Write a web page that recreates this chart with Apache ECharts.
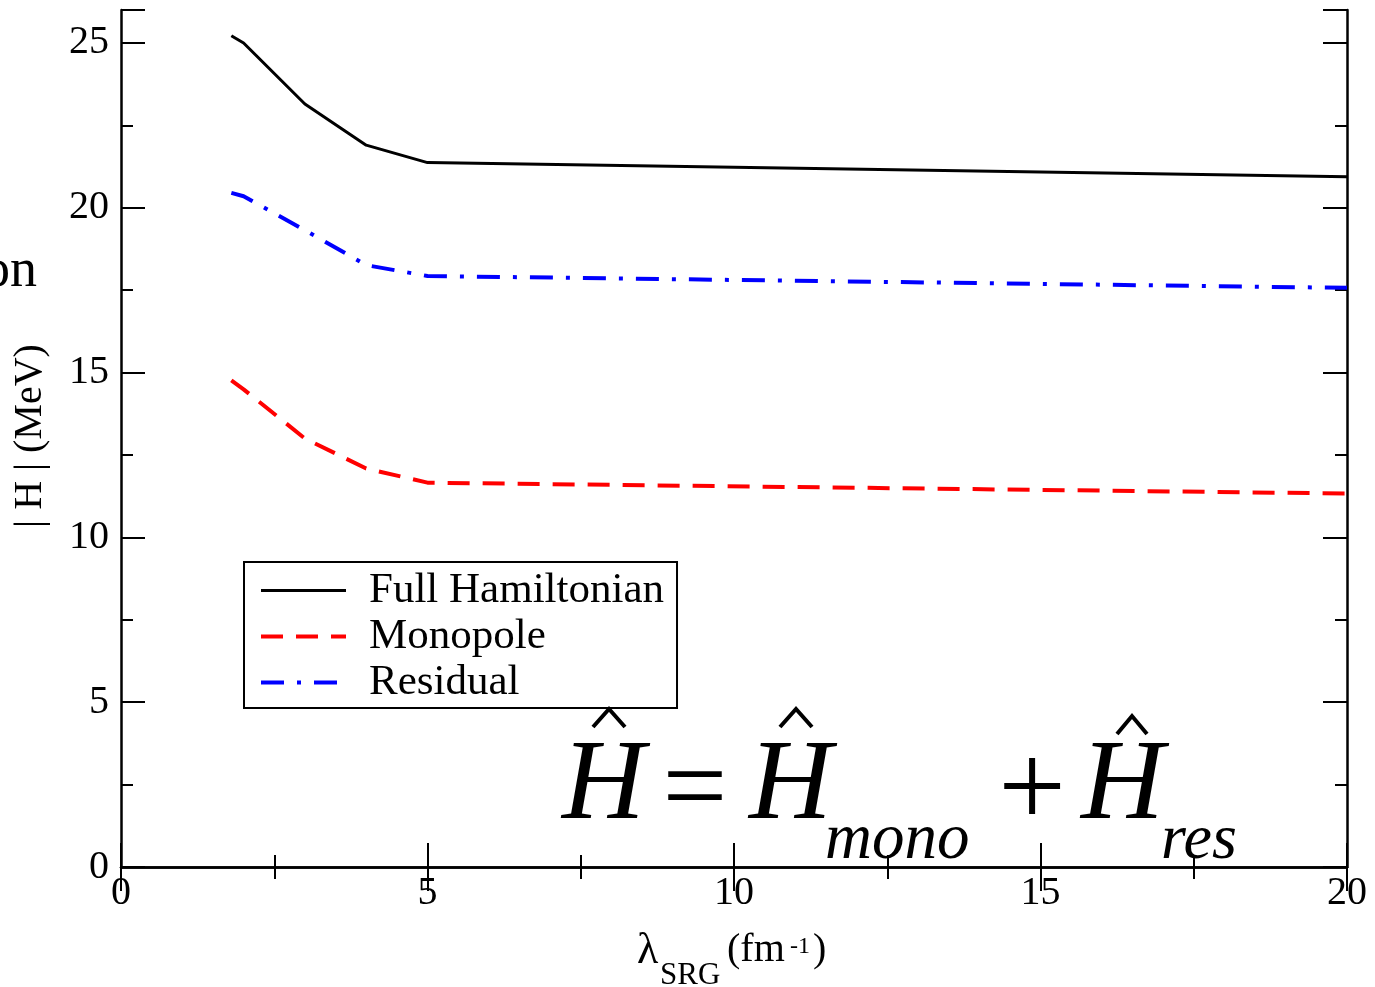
<!DOCTYPE html>
<html>
<head>
<meta charset="utf-8">
<title>SRG evolution of Hamiltonian norms</title>
<script src="https://cdn.jsdelivr.net/npm/echarts@6/dist/echarts.min.js"></script>
<style>
  html, body { margin: 0; padding: 0; background: #fff; }
  #chart { width: 1375px; height: 987px; }
</style>
</head>
<body>
<div id="chart"></div>
<script>
// SRG flow parameter lambda (fm^-1)
const lambda = [1.8, 2.0, 3.0, 4.0, 5.0, 20.0];
// |H| in MeV for each piece of the Hamiltonian
const fullH    = [25.22, 25.00, 23.15, 21.90, 21.37, 20.94];
const monopole = [14.76, 14.49, 13.00, 12.09, 11.66, 11.33];
const residual = [20.45, 20.35, 19.32, 18.26, 17.93, 17.57];
const seriesNames = ['Full Hamiltonian', 'Monopole', 'Residual'];

const SERIF = '"Liberation Serif", "Times New Roman", serif';
const pairs = ys => lambda.map((x, i) => [x, ys[i]]);

const styles = [
  { color: '#000000', width: 3, type: 'solid' },
  { color: '#ff0000', width: 4, type: [22, 13] },
  { color: '#0000ff', width: 4, type: [23, 13, 4, 13] }
];

const frame = { show: true, lineStyle: { color: '#000', width: 2.5 } };
const majorTick = { show: true, inside: true, length: 24, lineStyle: { color: '#000', width: 2 } };
const minorTickAx = { show: true, inside: true, length: 12, lineStyle: { color: '#000', width: 2 } };
const tickLabel = { fontSize: 40, fontFamily: SERIF, color: '#000' };

function xAx(pos, labels) {
  return {
    type: 'value', position: pos, min: 0, max: 20, interval: 5,
    axisLine: frame, axisTick: majorTick,
    minorTick: { show: true, splitNumber: 2, length: 12, lineStyle: { color: '#000', width: 2 } },
    axisLabel: labels ? Object.assign({ margin: 6 }, tickLabel) : { show: false },
    splitLine: { show: false }, minorSplitLine: { show: false }
  };
}
function yAx(pos, interval, tick, labels, line) {
  return {
    type: 'value', position: pos, min: 0, max: 26, interval: interval,
    axisLine: line ? frame : { show: false }, axisTick: tick,
    axisLabel: labels ? Object.assign({
      margin: 12, formatter: v => (v % 5 === 0 ? String(v) : '')
    }, tickLabel) : { show: false },
    splitLine: { show: false }
  };
}

function txt(text, x, y, size, opts) {
  opts = opts || {};
  return {
    type: 'text', x: x, y: y, rotation: opts.rot || 0, z: 10,
    style: {
      text: text, fill: '#000',
      font: (opts.italic ? 'italic ' : '') + size + 'px ' + SERIF,
      align: opts.align || 'left', textAlign: opts.align || 'left',
      verticalAlign: 'middle', textVerticalAlign: 'middle'
    }
  };
}
function hat(x0, xa, x1, yTop, yBot) {
  return {
    type: 'polyline', z: 10,
    shape: { points: [[x0, yBot], [xa, yTop], [x1, yBot]] },
    style: { stroke: '#000', lineWidth: 4, fill: null, lineJoin: 'miter' }
  };
}

const chart = echarts.init(document.getElementById('chart'), null, { renderer: 'canvas' });
chart.setOption({
  backgroundColor: '#fff',
  animation: false,
  grid: { left: 121, right: 28, top: 10, bottom: 120, containLabel: false },
  xAxis: [xAx('bottom', true), xAx('top', false)],
  yAxis: [
    yAx('left', 5, majorTick, true, true),
    yAx('left', 2.5, minorTickAx, false, false),
    yAx('right', 5, majorTick, false, true),
    yAx('right', 2.5, minorTickAx, false, false)
  ],
  legend: {
    orient: 'vertical', left: 244, top: 562,
    backgroundColor: '#fff', borderColor: '#000', borderWidth: 2,
    padding: [7, 13, 4, 15], itemGap: 3, itemWidth: 85, itemHeight: 20,
    itemStyle: { opacity: 0, borderWidth: 0 },
    data: seriesNames.map((n, i) => ({
      name: n,
      lineStyle: { color: styles[i].color, width: styles[i].width, type: styles[i].type }
    })),
    formatter: name => '{t|' + name + '}',
    textStyle: {
      color: '#000', fontFamily: SERIF, fontSize: 43,
      rich: { t: { fontFamily: SERIF, fontSize: 43, color: '#000', padding: [0, 0, 0, 18] } }
    }
  },
  series: seriesNames.map((n, i) => ({
    name: n, type: 'line',
    data: pairs([fullH, monopole, residual][i]),
    showSymbol: false, symbol: 'none',
    lineStyle: { color: styles[i].color, width: styles[i].width, type: styles[i].type },
    itemStyle: { color: styles[i].color }
  })),
  graphic: [
    // axis titles
    txt('| H | (MeV)', 30, 436, 40, { rot: Math.PI / 2, align: 'center' }),
    txt('on', 37, 272, 54, { align: 'right' }),
    txt('\u03bb', 637, 951, 44),
    txt('SRG', 660, 976, 31),
    txt('(fm', 727, 950, 40),
    txt('-1', 790, 947, 24),
    txt(')', 813, 950, 40),
    // H = H_mono + H_res
    txt('H', 562, 788, 115, { italic: true }),
    hat(593, 609, 625, 709, 727),
    txt('=', 695, 794, 115, { align: 'center' }),
    txt('H', 749, 788, 115, { italic: true }),
    hat(780, 796, 812, 709, 727),
    txt('mono', 825, 841, 65, { italic: true }),
    txt('+', 1032, 794, 120, { align: 'center' }),
    txt('H', 1081, 788, 115, { italic: true }),
    hat(1117, 1132, 1147, 716, 734),
    txt('res', 1161, 841, 64, { italic: true })
  ]
});
</script>
</body>
</html>
